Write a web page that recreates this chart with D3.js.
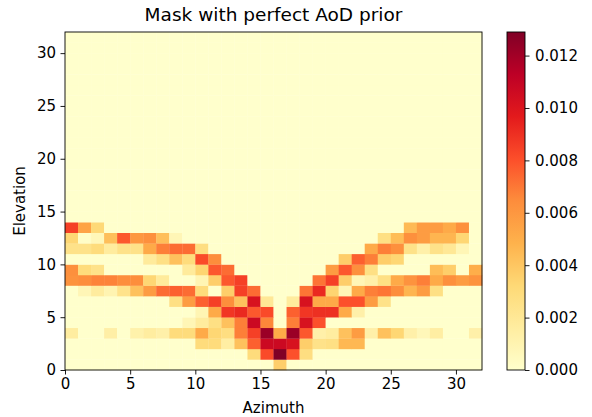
<!DOCTYPE html>
<html>
<head>
<meta charset="utf-8">
<script src="https://cdn.jsdelivr.net/npm/d3@7"></script>
<style>
  body { margin: 0; background: #fff; }
  text { font-family: "DejaVu Sans", sans-serif; fill: #000; }
</style>
</head>
<body>
<div id="chart"></div>
<script>
// values are in units of 1e-4, one array per elevation row, 32 azimuth bins each
var unit = 1e-4;
var elev0  = [0,0,0,0,0,0,0,0,0,0,0,0,0,0,0,0,37,0,0,0,0,0,0,0,0,0,0,0,0,0,0,0];
var elev1  = [0,0,0,0,0,0,0,0,0,0,0,0,0,0,30,82,129,80,28,0,0,0,0,0,0,0,0,0,0,0,0,0];
var elev2  = [0,0,0,0,0,0,0,0,0,0,30,30,15,42,76,107,107,102,37,25,27,46,46,0,0,0,0,0,0,0,0,0];
var elev3  = [16,0,0,14,0,12,16,13,30,30,52,33,28,68,85,122,52,122,78,13,16,42,58,13,42,33,13,7,15,0,0,13];
var elev4  = [0,0,0,0,0,0,0,0,0,8,17,27,42,68,107,66,0,68,102,80,0,0,0,0,0,0,0,0,0,0,0,0];
var elev5  = [0,0,0,0,0,0,0,0,0,0,9,52,88,92,78,82,0,76,88,90,90,52,13,0,0,0,0,0,0,0,0,0];
var elev6  = [0,0,0,0,0,0,0,0,27,58,76,85,64,42,102,20,0,17,102,52,52,80,80,58,25,0,0,0,0,0,0,0];
var elev7  = [0,8,17,10,24,42,58,73,76,73,30,0,37,85,73,0,0,0,71,92,34,8,52,68,71,64,47,58,27,0,0,0];
var elev8  = [62,64,67,67,64,64,33,18,0,0,9,37,78,85,0,0,0,0,0,71,85,37,8,13,27,52,62,68,52,63,58,62];
var elev9  = [63,30,25,0,0,0,0,0,0,18,34,78,73,0,0,0,0,0,0,0,58,78,63,27,0,0,0,0,44,37,0,50];
var elev10 = [0,0,0,0,0,0,18,27,42,30,82,64,0,0,0,0,0,0,0,0,0,37,76,68,37,33,0,0,0,0,0,0];
var elev11 = [25,25,30,17,25,25,52,68,73,73,28,0,0,0,0,0,0,0,0,0,0,0,0,52,68,63,25,13,25,20,8,0];
var elev12 = [33,2,7,43,78,60,63,43,8,0,0,0,0,0,0,0,0,0,0,0,0,0,0,0,27,44,63,58,47,47,33,0];
var elev13 = [85,55,32,0,0,0,0,0,0,0,0,0,0,0,0,0,0,0,0,0,0,0,0,0,0,0,45,58,58,52,63,0];
// elevations 14..31 carry no mass
var emptyRow = [0,0,0,0,0,0,0,0,0,0,0,0,0,0,0,0,0,0,0,0,0,0,0,0,0,0,0,0,0,0,0,0];

var azTicks = [0, 5, 10, 15, 20, 25, 30];
var elTicks = [0, 5, 10, 15, 20, 25, 30];
var cbTicks = [0, 0.002, 0.004, 0.006, 0.008, 0.010, 0.012];
var vmax = 0.0129;
var ylorrd = ["#ffffcc","#ffeda0","#fed976","#feb24c","#fd8d3c","#fc4e2a","#e31a1c","#bd0026","#800026"];

var w = 592, h = 417;
var margin = {top: 32, right: 110, bottom: 47, left: 65},
    plotW = 417, plotH = 338;

var rows = [elev0, elev1, elev2, elev3, elev4, elev5, elev6, elev7, elev8, elev9,
            elev10, elev11, elev12, elev13];
while (rows.length < 32) rows.push(emptyRow);

var cells = [];
rows.forEach(function(r, ei) {
  r.forEach(function(v, ai) { cells.push({az: ai, el: ei, v: v * unit}); });
});

var svg = d3.select("#chart").append("svg")
    .attr("width", w)
    .attr("height", h);

var x = d3.scaleLinear().domain([0, 32]).range([margin.left, margin.left + plotW]),
    y = d3.scaleLinear().domain([0, 32]).range([margin.top + plotH, margin.top]);

var color = d3.scaleLinear()
    .domain(ylorrd.map(function(d, i) { return vmax * i / (ylorrd.length - 1); }))
    .range(ylorrd)
    .clamp(true);

// heatmap cells
svg.append("g")
  .selectAll("rect")
  .data(cells)
  .enter().append("rect")
    .attr("x", function(d) { return x(d.az); })
    .attr("y", function(d) { return y(d.el + 1); })
    .attr("width", function(d) { return x(d.az + 1) - x(d.az) + 0.3; })
    .attr("height", function(d) { return y(d.el) - y(d.el + 1) + 0.3; })
    .attr("fill", function(d) { return color(d.v); });

// axes
var fs = "15px";
var xAxis = svg.append("g")
    .attr("transform", "translate(0," + (margin.top + plotH) + ")")
    .call(d3.axisBottom(x).tickValues(azTicks).tickSize(4.5).tickPadding(4));
var yAxis = svg.append("g")
    .attr("transform", "translate(" + margin.left + ",0)")
    .call(d3.axisLeft(y).tickValues(elTicks).tickSize(4.5).tickPadding(4.5));
[xAxis, yAxis].forEach(function(g) {
  g.select(".domain").remove();
  g.selectAll("text").style("font-size", fs).style("font-family", "DejaVu Sans");
  g.selectAll("line").attr("stroke", "#000").attr("stroke-width", 0.9);
});

svg.append("rect")
    .attr("x", margin.left).attr("y", margin.top)
    .attr("width", plotW).attr("height", plotH)
    .attr("fill", "none").attr("stroke", "#000").attr("stroke-width", 0.9);

// axis labels and title
svg.append("text")
    .attr("x", margin.left + plotW / 2)
    .attr("y", 413)
    .attr("text-anchor", "middle")
    .style("font-size", fs)
    .text("Azimuth");
svg.append("text")
    .attr("transform", "translate(25," + (margin.top + plotH / 2) + ") rotate(-90)")
    .attr("text-anchor", "middle")
    .style("font-size", fs)
    .text("Elevation");
svg.append("text")
    .attr("x", margin.left + plotW / 2)
    .attr("y", 21)
    .attr("text-anchor", "middle")
    .style("font-size", "18.5px")
    .text("Mask with perfect AoD prior");

// colorbar
var cbX = 507, cbW = 18;
var cbScale = d3.scaleLinear().domain([0, vmax]).range([margin.top + plotH, margin.top]);
var grad = svg.append("defs").append("linearGradient")
    .attr("id", "cbgrad")
    .attr("x1", 0).attr("y1", 1).attr("x2", 0).attr("y2", 0);
ylorrd.forEach(function(c, i) {
  grad.append("stop").attr("offset", i / (ylorrd.length - 1)).attr("stop-color", c);
});
svg.append("rect")
    .attr("x", cbX).attr("y", margin.top)
    .attr("width", cbW).attr("height", plotH)
    .attr("fill", "url(#cbgrad)")
    .attr("stroke", "#000").attr("stroke-width", 0.9);
var cbAxis = svg.append("g")
    .attr("transform", "translate(" + (cbX + cbW) + ",0)")
    .call(d3.axisRight(cbScale).tickValues(cbTicks).tickFormat(d3.format(".3f")).tickSize(4.5).tickPadding(5.5));
cbAxis.select(".domain").remove();
cbAxis.selectAll("text").style("font-size", fs).style("font-family", "DejaVu Sans");
cbAxis.selectAll("line").attr("stroke", "#000").attr("stroke-width", 0.9);
</script>
</body>
</html>
